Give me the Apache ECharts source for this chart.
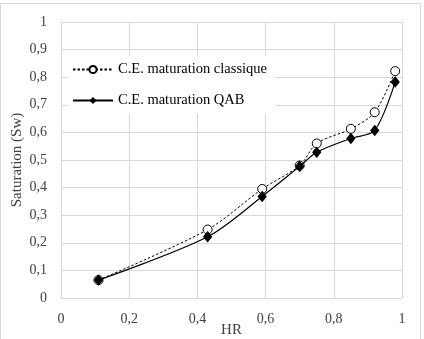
<!DOCTYPE html>
<html><head><meta charset="utf-8">
<script src="https://cdn.jsdelivr.net/npm/echarts@6/dist/echarts.min.js"></script>
<style>html,body{margin:0;padding:0;background:#fff}#c{width:424px;height:339px}</style>
</head><body><div id="c"></div>
<script>
const hr = [0.11, 0.43, 0.59, 0.70, 0.75, 0.85, 0.92, 0.98];
const classique = [0.065, 0.248, 0.395, 0.48, 0.56, 0.613, 0.673, 0.822];
const qab = [0.065, 0.222, 0.368, 0.477, 0.528, 0.578, 0.607, 0.783];
const seriesNames = ['C.E. maturation classique', 'C.E. maturation QAB'];
const xTicks = [0, 0.2, 0.4, 0.6, 0.8, 1];
const yTicks = [0, 0.1, 0.2, 0.3, 0.4, 0.5, 0.6, 0.7, 0.8, 0.9, 1];

const font = '"Liberation Serif", "DejaVu Serif", serif';
const fmt = v => String(Math.round(v * 10) / 10).replace('.', ',');
const chart = echarts.init(document.getElementById('c'));
chart.setOption({
  animation: false,
  backgroundColor: '#fff',
  grid: { left: 61, right: 22, top: 22, bottom: 41, outerBoundsMode: 'none', containLabel: false },
  graphic: [{ type: 'rect', shape: { x: 0.5, y: 3.5, width: 420, height: 340 }, style: { fill: 'none', stroke: '#d9d9d9', lineWidth: 1 } }],
  xAxis: {
    type: 'value', min: 0, max: 1, interval: 0.2,
    name: 'HR', nameLocation: 'middle', nameGap: 25, nameMoveOverlap: false,
    nameTextStyle: { fontFamily: font, fontSize: 15, color: '#404040' },
    axisLine: { show: true, lineStyle: { color: '#d9d9d9' } },
    axisTick: { show: false },
    axisLabel: { fontFamily: font, fontSize: 14, color: '#404040', margin: 14, formatter: fmt },
    splitLine: { show: true, lineStyle: { color: '#d9d9d9' } }
  },
  yAxis: {
    type: 'value', min: 0, max: 1, interval: 0.1,
    name: 'Saturation (Sw)', nameLocation: 'middle', nameGap: 36, nameMoveOverlap: false,
    nameTextStyle: { fontFamily: font, fontSize: 15, color: '#404040' },
    axisLine: { show: false }, axisTick: { show: false },
    axisLabel: { fontFamily: font, fontSize: 14, color: '#404040', margin: 14, formatter: fmt },
    splitLine: { show: true, lineStyle: { color: '#d9d9d9' } }
  },
  legend: {
    orient: 'vertical', left: 68, top: 56,
    backgroundColor: '#fff', padding: [6, 8, 6, 4], itemGap: 16,
    itemWidth: 40, itemHeight: 9,
    textStyle: { fontFamily: font, fontSize: 14.5, color: '#000' },
    data: seriesNames
  },
  series: [
    {
      name: seriesNames[0], type: 'line', smooth: 0.3,
      data: hr.map((x, i) => [x, classique[i]]),
      symbol: 'circle', symbolSize: 9,
      lineStyle: { color: '#000', width: 1, type: [2.5, 2] },
      itemStyle: { color: '#fff', borderColor: '#000', borderWidth: 1 },
      z: 2
    },
    {
      name: seriesNames[1], type: 'line', smooth: 0.3,
      data: hr.map((x, i) => [x, qab[i]]),
      symbol: 'diamond', symbolSize: [8, 10],
      lineStyle: { color: '#000', width: 1.2 },
      itemStyle: { color: '#000', borderColor: '#000' },
      z: 3
    }
  ]
});
</script></body></html>
